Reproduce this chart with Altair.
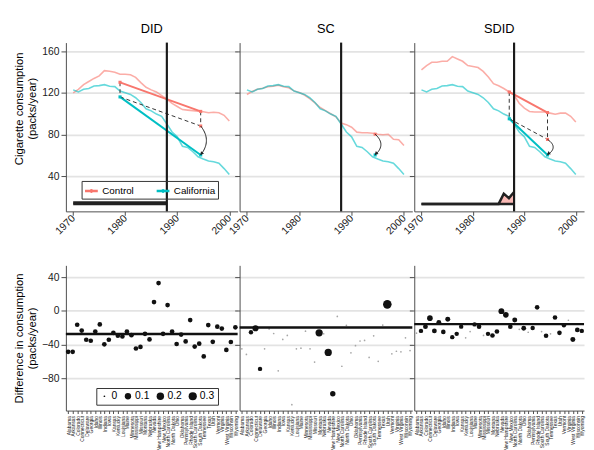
import altair as alt
import numpy as np
import pandas as pd

FONT = "Liberation Sans"
RED = "#F8766D"
CYAN = "#00BFC4"

# ---------------- data ----------------
years = list(range(1970, 2001))
treat_year = 1988
california = [123.0, 121.0, 123.5, 124.4, 126.7, 127.1, 128.0, 126.4, 126.1, 121.9,
              120.2, 118.6, 115.4, 110.8, 104.8, 102.8, 99.7, 97.5, 90.1, 82.4,
              77.8, 68.7, 67.5, 63.4, 58.6, 56.4, 54.5, 53.8, 52.3, 47.2, 41.6]
did_control = [120.1, 123.5, 128.0, 131.0, 134.0, 136.5, 141.5, 141.0, 140.0, 138.0,
               138.0, 137.5, 135.0, 130.0, 125.5, 123.0, 121.0, 117.5, 114.0, 110.0,
               107.0, 104.0, 103.5, 103.0, 102.5, 102.0, 101.0, 101.5, 101.0, 98.5, 93.0]
sc_control = [118.5, 121.5, 123.5, 124.5, 126.0, 126.5, 127.5, 126.0, 125.0, 122.0,
              120.5, 118.0, 114.5, 110.5, 106.0, 103.0, 100.0, 97.0, 91.0, 89.5,
              87.0, 82.3, 81.7, 81.7, 81.2, 80.3, 79.8, 80.3, 75.5, 75.0, 69.5]
sdid_control = [142.3, 146.4, 149.6, 149.6, 150.5, 150.5, 155.0, 152.7, 150.5, 146.4,
                145.5, 144.5, 140.8, 135.4, 129.0, 126.9, 124.3, 121.2, 118.0, 110.1,
                105.4, 102.2, 101.6, 101.6, 101.6, 100.6, 99.6, 100.6, 100.6, 97.5, 92.1]
did_lambda = [0.0526, 0.0526, 0.0526, 0.0526, 0.0526, 0.0526, 0.0526, 0.0526, 0.0526, 0.0526,
              0.0526, 0.0526, 0.0526, 0.0526, 0.0526, 0.0526, 0.0526, 0.0526, 0.0526]
sdid_lambda = [0.0, 0.0, 0.0, 0.0, 0.0, 0.0, 0.0, 0.0, 0.0, 0.0,
               0.0, 0.0, 0.0, 0.0, 0.0, 0.0, 0.366, 0.206, 0.427]

states = ["Alabama", "Arkansas", "Colorado", "Connecticut", "Delaware", "Georgia", "Idaho",
          "Illinois", "Indiana", "Iowa", "Kansas", "Kentucky", "Louisiana", "Maine",
          "Minnesota", "Mississippi", "Missouri", "Montana", "Nebraska", "Nevada",
          "New Hampshire", "New Mexico", "North Carolina", "North Dakota", "Ohio",
          "Oklahoma", "Pennsylvania", "Rhode Island", "South Carolina", "South Dakota",
          "Tennessee", "Texas", "Utah", "Vermont", "Virginia", "West Virginia",
          "Wisconsin", "Wyoming"]
did_diff = [-48.4, -48.4, -16.3, -23.2, -34.1, -35.3, -24.4, -15.9, -39.5, -34.1,
            -25.9, -29.4, -30.2, -24.4, -28.7, -44.5, -42.6, -27.1, -33.7, 10.5,
            33.0, -27.1, 7.0, -24.4, -39.1, -28.0, -36.1, -10.8, -42.2, -38.7,
            -53.8, -16.7, -36.6, -18.6, -20.9, -46.1, -36.8, -19.4]
sc_diff = [-44.9, -51.5, -25.2, -20.5, -68.6, -44.9, -21.3, -26.7, -70.9, -33.7,
           -29.0, -111.0, -44.9, -44.1, -24.0, -44.9, -60.5, -25.9, -27.0, -49.2,
           -98.0, -6.5, -65.5, -17.0, -49.6, -41.1, -35.6, -34.9, -55.0, -29.4,
           -59.7, -16.7, 7.8, -50.8, -47.7, -48.4, -31.8, -46.9]
sdid_diff = [-26.3, -23.6, -18.6, -8.5, -23.6, -13.5, -24.8, -9.7, -31.0, -27.1,
             -18.6, -31.8, -24.4, -15.9, -18.6, -29.0, -27.1, -29.0, -24.4, -0.3,
             -4.6, -18.6, -10.8, -21.7, -20.5, -25.2, -20.2, 4.3, -24.4, -29.4,
             -27.1, -7.7, -25.9, -17.0, -11.0, -33.7, -22.5, -23.6]
did_omega = [0.026, 0.026, 0.026, 0.026, 0.026, 0.026, 0.026, 0.026, 0.026, 0.026,
             0.026, 0.026, 0.026, 0.026, 0.026, 0.026, 0.026, 0.026, 0.026, 0.026,
             0.026, 0.026, 0.026, 0.026, 0.026, 0.026, 0.026, 0.026, 0.026, 0.026,
             0.026, 0.026, 0.026, 0.026, 0.026, 0.026, 0.026, 0.026]
sc_omega = [0.0, 0.0, 0.02, 0.09, 0.02, 0.0, 0.0, 0.0, 0.0, 0.0,
            0.0, 0.0, 0.0, 0.0, 0.0, 0.0, 0.0, 0.18, 0.0, 0.18,
            0.05, 0.0, 0.0, 0.0, 0.0, 0.0, 0.0, 0.0, 0.0, 0.0,
            0.0, 0.0, 0.36, 0.0, 0.0, 0.0, 0.0, 0.0]
sdid_omega = [0.0, 0.02, 0.03, 0.06, 0.03, 0.03, 0.025, 0.035, 0.02, 0.02,
              0.02, 0.0, 0.0, 0.02, 0.025, 0.0, 0.02, 0.025, 0.025, 0.07,
              0.06, 0.025, 0.035, 0.0, 0.03, 0.0, 0.02, 0.025, 0.0, 0.025,
              0.0, 0.025, 0.025, 0.02, 0.0, 0.035, 0.03, 0.02]
estimates = [-27.35, -19.62, -15.60]
panel_names = ["DID", "SC", "SDID"]

x_ticks = [1970, 1980, 1990, 2000]
y_ticks_top = [40, 80, 120, 160]
y_ticks_bottom = [-80, -40, 0, 40]
size_legend_values = [0, 0.1, 0.2, 0.3]

# ---------------- geometry / style ----------------
WIDTHS = [175, 176, 173]
H_TOP = 172
H_BOT = 148
XDOM = [1968.6, 2001.6]
YDOM_TOP = [6, 168.5]
YDOM_BOT = [-118, 54]
W_BASE = 13.2
W_SCALE = 27.0
BULGE = 1.1

GRID = "#e3e3e3"


def top_panel(idx, name, control, lam, width):
    yrs = np.array(years, dtype=float)
    cal = np.array(california)
    ctl = np.array(control)
    pre = yrs <= treat_year
    post = ~pre

    xscale = alt.Scale(domain=XDOM, nice=False, zero=False)
    yscale = alt.Scale(domain=YDOM_TOP, nice=False, zero=False)
    xaxis = alt.Axis(values=x_ticks, format="d", labelAngle=315, labelAlign="right",
                     labelBaseline="middle", grid=False, title=None, tickSize=4,
                     labelFontSize=10.5, labelPadding=1)
    if idx == 0:
        yaxis = alt.Axis(values=y_ticks_top, tickSize=5, grid=True,
                         gridColor=GRID, gridWidth=1.8, labelFontSize=10.5, labelPadding=2,
                         title=["Cigarette consumption", "(packs/year)"],
                         titleFontSize=11.5, titleFontWeight="normal", titlePadding=4,
                         titleY=67)
    else:
        yaxis = alt.Axis(values=y_ticks_top, labels=False, tickSize=5, grid=True,
                         gridColor=GRID, gridWidth=1.8, title=None)
    X = alt.X("year:Q", scale=xscale, axis=xaxis)
    Y = alt.Y("value:Q", scale=yscale, axis=yaxis)

    color = alt.Color("group:N",
                      scale=alt.Scale(domain=["Control", "California"], range=[RED, CYAN]),
                      legend=alt.Legend(orient="none", legendX=16, legendY=141,
                                        direction="horizontal", title=None,
                                        strokeColor="#333", padding=2,
                                        symbolType="M-1,0H1M-0.12,0A0.12,0.12,0,1,1,0.12,0A0.12,0.12,0,1,1,-0.12,0Z",
                                        symbolSize=170, symbolStrokeWidth=2.4,
                                        symbolOpacity=1, labelFontSize=10,
                                        labelFont=FONT, columnPadding=17, labelOffset=3))

    traj = pd.DataFrame({"year": years + years, "value": list(control) + list(california),
                         "group": ["Control"] * len(years) + ["California"] * len(years)})
    layers = [alt.Chart(traj).mark_line(strokeWidth=1.6, opacity=0.6).encode(x=X, y=Y, color=color)]

    t_post = yrs[post].mean()
    ctl_post = ctl[post].mean()
    cal_post = cal[post].mean()

    if lam is not None:
        w = np.array(lam)
        t_pre = (w * yrs[pre]).sum() / w.sum()
        ctl_pre = (w * ctl[pre]).sum() / w.sum()
        cal_pre = (w * cal[pre]).sum() / w.sum()
        cf = cal_pre + (ctl_post - ctl_pre)

        # time weights at the bottom
        wdf = pd.DataFrame({"year": yrs[pre], "value": W_BASE + w * W_SCALE,
                            "base": W_BASE})
        layers.append(alt.Chart(wdf).mark_area(color=RED, opacity=0.5).encode(
            x=X, y=Y, y2="base:Q"))
        layers.append(alt.Chart(wdf).mark_line(color="#222", strokeWidth=2.5).encode(x=X, y=Y))
        bdf = pd.DataFrame({"year": [yrs[pre].min()], "year2": [yrs[pre].max()], "value": [W_BASE]})
        layers.append(alt.Chart(bdf).mark_rule(color="#222", strokeWidth=2.5).encode(
            x=X, x2="year2:Q", y=Y))

        segs = pd.DataFrame({"year": [t_pre, t_pre], "value": [ctl_pre, cal_pre],
                             "year2": [t_post, t_post], "value2": [ctl_post, cal_post],
                             "c": [RED, CYAN]})
        layers.append(alt.Chart(segs).mark_rule(strokeWidth=2).encode(
            x=X, y=Y, x2="year2:Q", y2="value2:Q", color=alt.Color("c:N", scale=None)))
        dashed = pd.DataFrame({"year": [t_pre, t_pre, t_post],
                               "value": [cal_pre, ctl_pre, ctl_post],
                               "year2": [t_post, t_pre, t_post],
                               "value2": [cf, cal_pre, cf]})
        layers.append(alt.Chart(dashed).mark_rule(color="#333", strokeWidth=1,
                                                  strokeDash=[4, 3]).encode(
            x=X, y=Y, x2="year2:Q", y2="value2:Q"))
        dots = pd.DataFrame({"year": [t_pre, t_pre, t_post, t_post, t_post],
                             "value": [ctl_pre, cal_pre, ctl_post, cal_post, cf],
                             "c": [RED, CYAN, RED, CYAN, RED]})
        start = cf
    else:
        dots = pd.DataFrame({"year": [t_post, t_post], "value": [ctl_post, cal_post],
                             "c": [RED, CYAN]})
        start = ctl_post

    layers.append(alt.Chart(dots).mark_point(filled=True, shape="square", size=10, opacity=1).encode(
        x=X, y=Y, color=alt.Color("c:N", scale=None)))

    # curved arrow
    t = np.linspace(0, 1, 25)
    curve = pd.DataFrame({"year": t_post + 4 * BULGE * t * (1 - t),
                          "value": start + (cal_post - start) * t, "o": np.arange(25)})
    layers.append(alt.Chart(curve).mark_line(color="#222", strokeWidth=1).encode(
        x=X, y=Y, order="o:Q"))
    pxx = width / (XDOM[1] - XDOM[0])
    pxy = H_TOP / (YDOM_TOP[1] - YDOM_TOP[0])
    ang = float(np.degrees(np.arctan2(4 * BULGE * pxx, (start - cal_post) * pxy)))
    head = pd.DataFrame({"year": [t_post + 0.15], "value": [cal_post + 1.2]})
    layers.append(alt.Chart(head).mark_point(filled=True, shape="triangle-down", size=16,
                                             color="#222", opacity=1, angle=ang).encode(x=X, y=Y))

    # treatment line
    tdf = pd.DataFrame({"year": [treat_year]})
    layers.append(alt.Chart(tdf).mark_rule(color="#1a1a1a", strokeWidth=2.2).encode(x=X))

    return alt.layer(*layers).properties(
        width=width, height=H_TOP,
        title=alt.TitleParams(name, fontSize=13, fontWeight="normal", font=FONT, offset=6))


def bottom_panel(idx, diffs, omega, est, width):
    df = pd.DataFrame({"state": states, "diff": diffs, "w": omega})
    xaxis = alt.Axis(labelAngle=270, labelAlign="right", labelBaseline="middle",
                     labelFontSize=5, tickSize=3, labelPadding=2, title=None,
                     grid=False, labelOverlap=False)
    if idx == 0:
        yaxis = alt.Axis(values=y_ticks_bottom, tickSize=5, grid=True,
                         gridColor=GRID, gridWidth=1.8, labelFontSize=10.5, labelPadding=2,
                         title=["Difference in consumption", "(packs/year)"],
                         titleFontSize=11.5, titleFontWeight="normal", titlePadding=4)
    else:
        yaxis = alt.Axis(values=y_ticks_bottom, labels=False, tickSize=5, grid=True,
                         gridColor=GRID, gridWidth=1.8, title=None)
    X = alt.X("state:N", sort=states, scale=alt.Scale(type="point", padding=0.5), axis=xaxis)
    yscale = alt.Scale(domain=YDOM_BOT, nice=False, zero=False)
    size = alt.Size("w:Q", scale=alt.Scale(type="sqrt", domain=[0, 0.4], range=[3, 80]),
                    legend=alt.Legend(values=size_legend_values, orient="none", format="~g",
                                      legendX=31, legendY=352, direction="horizontal",
                                      title=None, strokeColor="#333", padding=3,
                                      symbolFillColor="black", symbolStrokeWidth=0,
                                      symbolType="circle", labelFontSize=10.5, labelFont=FONT,
                                      columnPadding=5, labelOffset=2))
    pts = alt.Chart(df).mark_circle(opacity=1).encode(
        x=X, y=alt.Y("diff:Q", scale=yscale, axis=yaxis), size=size,
        color=alt.condition("datum.w == 0", alt.value("#a6a6a6"), alt.value("#111111")))
    edf = pd.DataFrame({"est": [est]})
    rule = alt.Chart(edf).mark_rule(color="#111", strokeWidth=2.5).encode(
        y=alt.Y("est:Q", scale=yscale, axis=yaxis))
    return alt.layer(pts, rule).properties(width=width, height=H_BOT)


top = alt.hconcat(
    top_panel(0, panel_names[0], did_control, did_lambda, WIDTHS[0]),
    top_panel(1, panel_names[1], sc_control, None, WIDTHS[1]),
    top_panel(2, panel_names[2], sdid_control, sdid_lambda, WIDTHS[2]),
    spacing=2, bounds="flush")
bottom = alt.hconcat(
    bottom_panel(0, did_diff, did_omega, estimates[0], WIDTHS[0]),
    bottom_panel(1, sc_diff, sc_omega, estimates[1], WIDTHS[1]),
    bottom_panel(2, sdid_diff, sdid_omega, estimates[2], WIDTHS[2]),
    spacing=2, bounds="flush")

chart = alt.vconcat(top, bottom, spacing=29).properties(
    padding={"left": 5, "top": 10, "right": 0, "bottom": 0}
).configure_view(stroke=None).configure_axis(
    labelFont=FONT, titleFont=FONT, domainColor="#4d4d4d", tickColor="#4d4d4d",
    labelColor="#1a1a1a", titleColor="#000000", domainWidth=1
).configure_legend(labelFont=FONT)

chart.save("out.html", embed_options={"renderer": "svg", "actions": False})
